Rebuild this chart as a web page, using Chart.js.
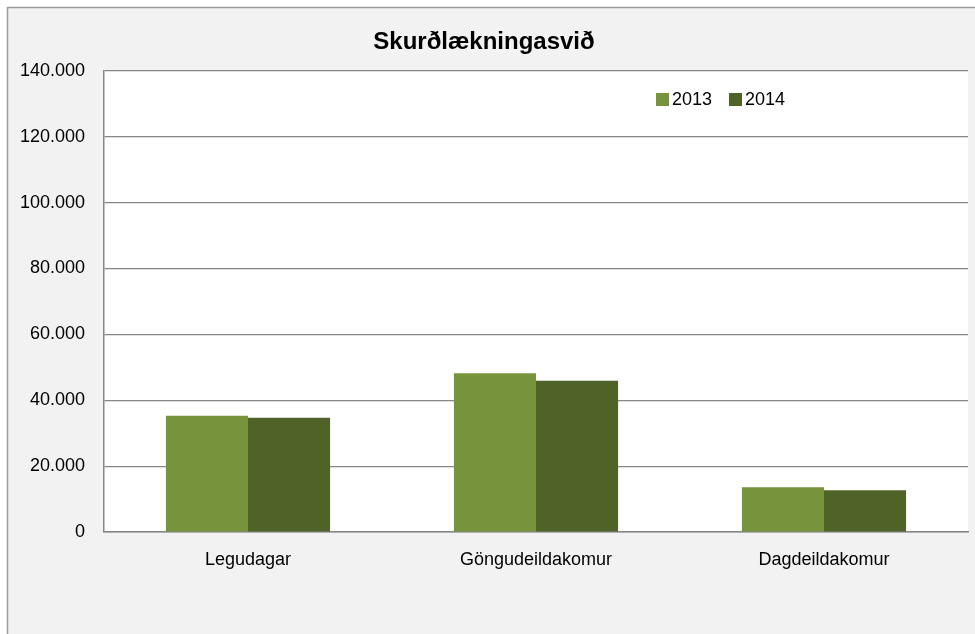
<!DOCTYPE html>
<html>
<head>
<meta charset="utf-8">
<title>Skurðlækningasvið</title>
<script src="https://cdn.jsdelivr.net/npm/chart.js@4.4.0/dist/chart.umd.min.js"></script>
<style>
  html, body { margin: 0; padding: 0; background: #fff; }
  canvas { display: block; }
</style>
</head>
<body>
<canvas id="chart" width="975" height="634"></canvas>
<script>
// data
const categories = ["Legudagar", "Göngudeildakomur", "Dagdeildakomur"];
const seriesNames = ["2013", "2014"];
const values2013 = [35300, 48200, 13600];
const values2014 = [34700, 45900, 12700];
const yTickLabels = ["0", "20.000", "40.000", "60.000", "80.000", "100.000", "120.000", "140.000"];

const colors = ["#77933c", "#4f6228"];
const gridColor = "#868686";
const fontFamily = "'Liberation Sans', Arial, sans-serif";

// grey frame + white plot area
const frame = {
  id: "frame",
  beforeDraw(chart) {
    const ctx = chart.ctx;
    const a = chart.chartArea;
    ctx.save();
    ctx.fillStyle = "#ffffff";
    ctx.fillRect(0, 0, chart.width, chart.height);
    ctx.fillStyle = "#f2f2f2";
    ctx.fillRect(7, 7, chart.width, chart.height);
    ctx.strokeStyle = "#9a9a9a";
    ctx.lineWidth = 1.5;
    ctx.strokeRect(7.5, 7.5, chart.width + 10, chart.height + 10);
    ctx.fillStyle = "#ffffff";
    ctx.fillRect(a.left, a.top, a.right - a.left, a.bottom - a.top);
    ctx.restore();
  }
};

// legend sits inside the plot, top right
const innerLegend = {
  id: "innerLegend",
  afterDraw(chart) {
    const ctx = chart.ctx;
    const starts = [656, 729];
    ctx.save();
    ctx.font = "18px " + fontFamily;
    ctx.textBaseline = "middle";
    ctx.textAlign = "left";
    chart.data.datasets.forEach((ds, i) => {
      ctx.fillStyle = ds.backgroundColor;
      ctx.fillRect(starts[i], 93, 13, 13);
      ctx.fillStyle = "#000";
      ctx.fillText(ds.label, starts[i] + 16, 100);
    });
    ctx.restore();
  }
};

const ctx = document.getElementById("chart").getContext("2d");
new Chart(ctx, {
  type: "bar",
  data: {
    labels: categories,
    datasets: [
      { label: seriesNames[0], data: values2013, backgroundColor: colors[0] },
      { label: seriesNames[1], data: values2014, backgroundColor: colors[1] }
    ]
  },
  options: {
    responsive: false,
    animation: false,
    devicePixelRatio: 1,
    layout: { padding: { left: 0, right: 7, top: 2, bottom: 0 } },
    datasets: {
      bar: { barPercentage: 1, categoryPercentage: 0.57, borderWidth: 0 }
    },
    plugins: {
      legend: { display: false },
      tooltip: { enabled: false },
      title: {
        display: true,
        text: "Skurðlækningasvið",
        color: "#000",
        font: { family: fontFamily, size: 24, weight: "bold" },
        padding: { top: 26, bottom: 14 }
      }
    },
    scales: {
      x: {
        grid: { display: false, drawTicks: false },
        border: { display: true, color: gridColor, width: 1.5 },
        ticks: { color: "#000", padding: 17, font: { family: fontFamily, size: 18 } },
        afterFit(scale) { scale.height = 102; }
      },
      y: {
        min: 0,
        max: 140000,
        ticks: {
          stepSize: 20000,
          color: "#000",
          padding: 19,
          font: { family: fontFamily, size: 18 },
          callback: (v, i) => yTickLabels[i]
        },
        grid: { color: gridColor, lineWidth: 1.2, drawTicks: false },
        border: { display: true, color: gridColor, width: 1.5 },
        afterFit(scale) { scale.width = 104; }
      }
    }
  },
  plugins: [frame, innerLegend]
});
</script>
</body>
</html>
